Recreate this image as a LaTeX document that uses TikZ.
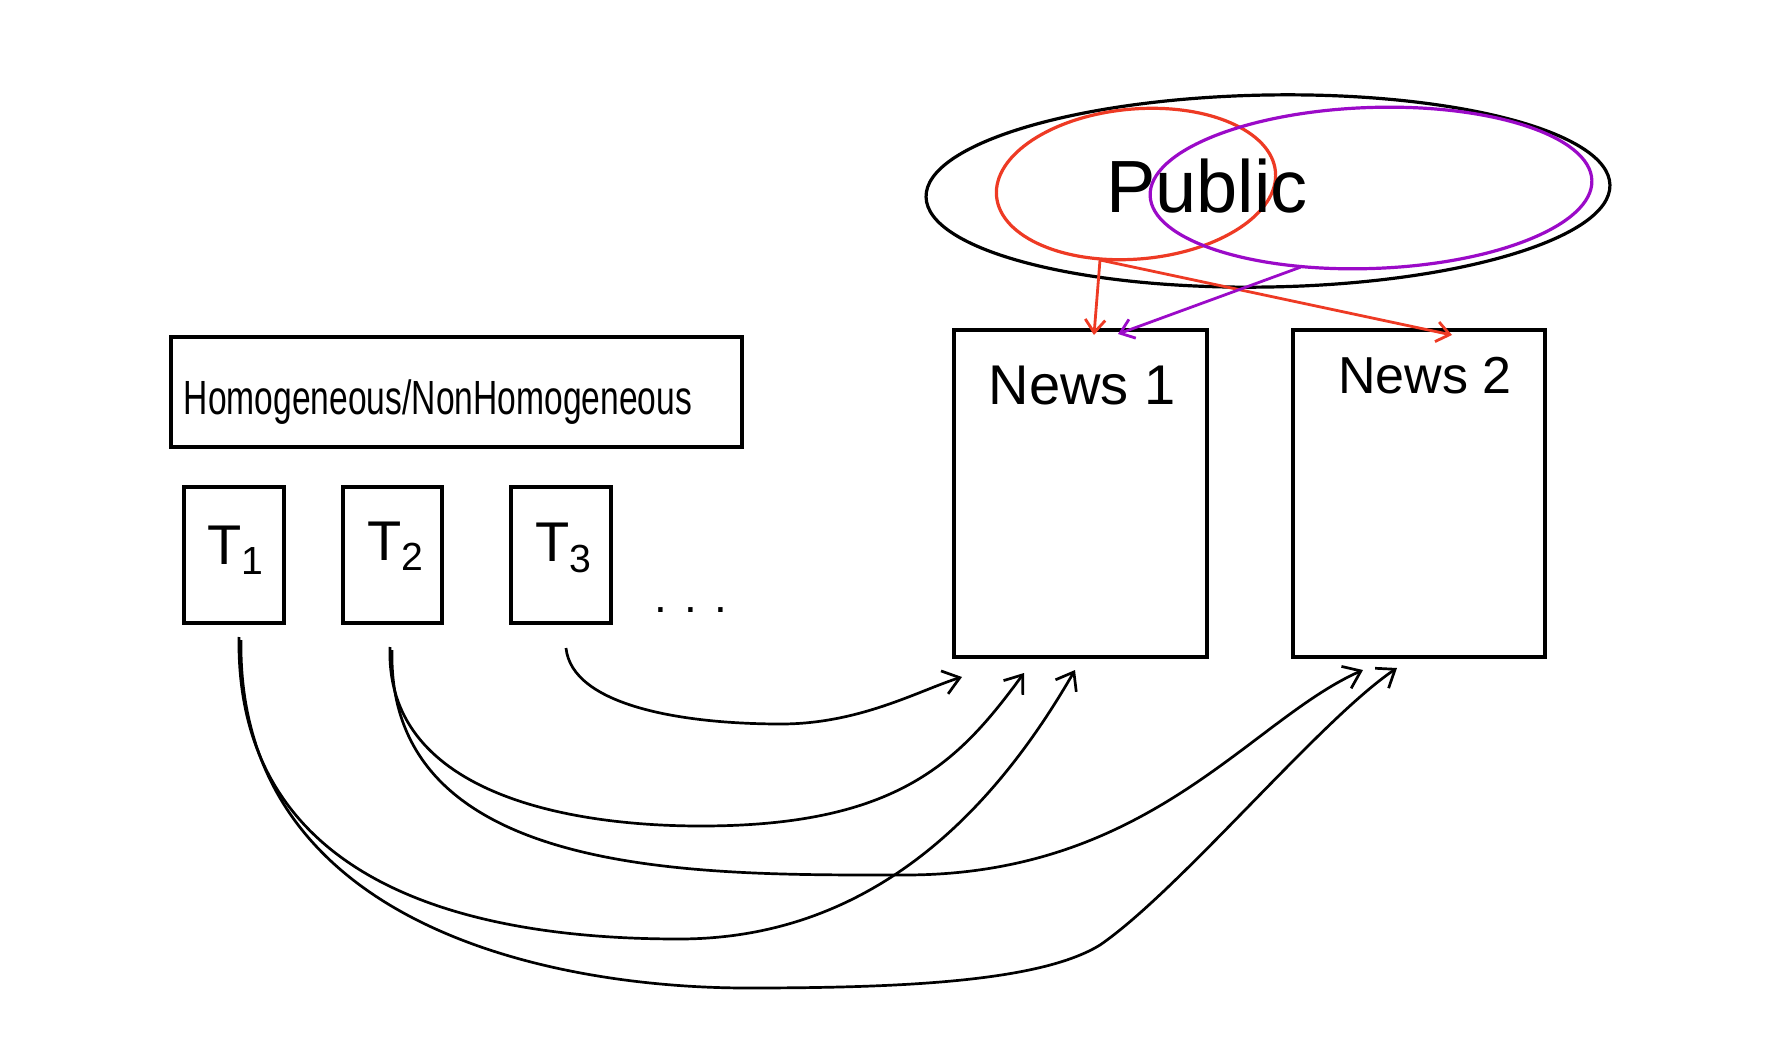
\documentclass[tikz,border=0pt]{standalone}
\usepackage{fontspec}
\usepackage{graphicx}
\setmainfont{Liberation Sans}
\usetikzlibrary{arrows.meta,shapes.geometric}
\definecolor{penred}{RGB}{238,58,36}
\definecolor{penpurple}{RGB}{155,10,200}
\begin{document}
\begin{tikzpicture}[x=0.5pt,y=-0.5pt,
  box/.style={draw,line width=1.6pt,inner sep=0pt,outer sep=0pt},
  ell/.style={draw,ellipse,line width=1.6pt,inner sep=0pt,outer sep=0pt},
  curve/.style={line width=1.35pt,-{Straight Barb[length=8pt,width=12pt]}},
  penarrow/.style={line width=1.4pt,-{Straight Barb[length=6.5pt,width=10pt]}},
  lbl/.style={inner sep=0pt}]
\fill[white] (0,0) rectangle (1774,1044);
\useasboundingbox (0,0) rectangle (1774,1044);

% header box
\node[box,minimum width=285.5pt,minimum height=55pt] (hdr) at (456.5,392) {};
\node[lbl] (hdrtxt) at (438,402) {\fontsize{24}{28}\selectfont\scalebox{0.7}[1]{Homogeneous/NonHomogeneous}};

% topic boxes
\node[box,minimum width=50pt,minimum height=68pt] (t1) at (234,555) {};
\node[box,minimum width=49.5pt,minimum height=68pt] (t2) at (392.5,555) {};
\node[box,minimum width=50pt,minimum height=68pt] (t3) at (561,555) {};
\node[lbl] (t1txt) at (236,550) {\fontsize{28}{32}\selectfont T\textsubscript{1}};
\node[lbl] (t2txt) at (396,546) {\fontsize{28}{32}\selectfont T\textsubscript{2}};
\node[lbl] (t3txt) at (564,548) {\fontsize{28}{32}\selectfont T\textsubscript{3}};
\node[lbl] (dots) at (691,610) {\fontsize{23}{26}\selectfont . . .};

% news boxes
\node[box,minimum width=126.5pt,minimum height=163.5pt] (n1) at (1080.5,493.5) {};
\node[box,minimum width=126pt,minimum height=163.5pt] (n2) at (1419,493.5) {};
\node[lbl] (n1txt) at (1082,386) {\fontsize{28}{32}\selectfont News 1};
\node[lbl] (n2txt) at (1425,376) {\fontsize{26}{30}\selectfont News 2};

% public ellipses
\node[ell,minimum width=342pt,minimum height=96pt,rotate=1] (pub) at (1268,191) {};
\node[ell,draw=penred,minimum width=140pt,minimum height=75pt,rotate=5] (redel) at (1136,184) {};
\node[ell,draw=penpurple,minimum width=221pt,minimum height=80.5pt,rotate=2] (purel) at (1371,188) {};
\node[lbl] (pubtxt) at (1207,186) {\fontsize{37}{42}\selectfont Public};

% coloured arrows
\coordinate (rs) at (1100,260);
\coordinate (ps) at (1301,267);
\coordinate (n1a) at (1094,335);
\coordinate (n1b) at (1118,334);
\coordinate (n2a) at (1452,335);
\draw[penarrow,penred] (rs) -- (n1a);
\draw[penarrow,penred] (rs) -- (n2a);
\draw[penarrow,penpurple] (ps) -- (n1b);

% black curved connectors
\coordinate (a1) at (962,677);
\coordinate (a2) at (1024,673);
\coordinate (a3) at (1075,670);
\coordinate (b1) at (1363,670);
\coordinate (b2) at (1397,668);
\coordinate (s3) at (566,648);
\coordinate (s2a) at (390,647);
\coordinate (s2b) at (392,650);
\coordinate (s1a) at (239,637);
\coordinate (s1b) at (241,640);

\draw[curve] (s3) .. controls (572,705) and (680,724) .. (781,724)
  .. controls (860,724) and (920,690) .. (a1);
\draw[curve] (s2a) .. controls (385,790) and (560,826) .. (701,826)
  .. controls (900,826) and (960,760) .. (a2);
\draw[curve] (s1a) .. controls (235,900) and (500,939) .. (679,939)
  .. controls (880,939) and (1000,800) .. (a3);
\draw[curve] (s2b) .. controls (387,880) and (700,875) .. (905,875)
  .. controls (1150,875) and (1250,720) .. (b1);
\draw[curve] (s1b) .. controls (237,930) and (560,988) .. (747,988)
  .. controls (900,988) and (1040,982) .. (1100,945)
  .. controls (1180,890) and (1320,720) .. (b2);
\end{tikzpicture}
\end{document}
